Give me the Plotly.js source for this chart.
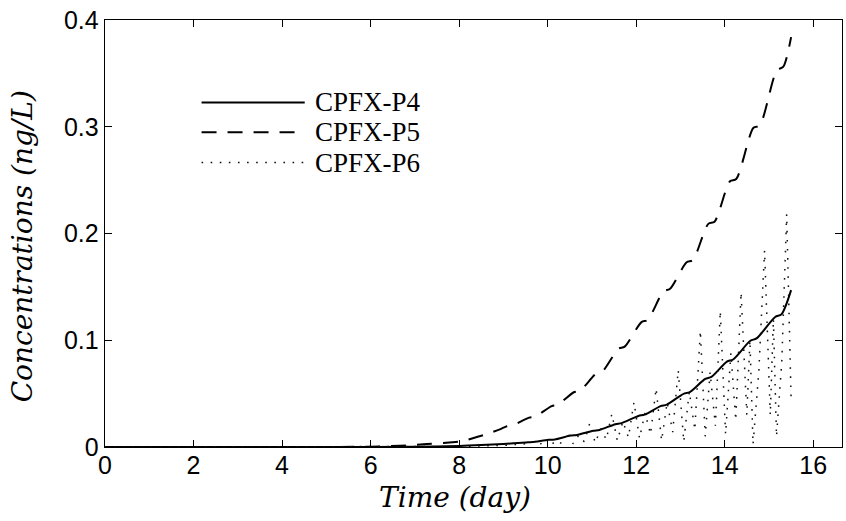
<!DOCTYPE html>
<html>
<head>
<meta charset="utf-8">
<script src="https://cdn.plot.ly/plotly-3.0.1.min.js"></script>
<style>
  html, body { margin: 0; padding: 0; background: #fff; }
  #chart { width: 846px; height: 521px; }
</style>
</head>
<body>
<div id="chart"></div>
<script>
// CPFX-P4 concentration (ng/L) against time (day)
const timeP4 = [0, 6, 7, 8, 8.5, 9, 9.51, 9.65, 10.02, 10.16, 10.52, 10.66, 11.03, 11.17,
  11.53, 11.67, 12.05, 12.19, 12.55, 12.69, 13.07, 13.21, 13.56, 13.70, 14.05, 14.19,
  14.58, 14.72, 15.14, 15.28, 15.5];
const concP4 = [0, 0, 0.0002, 0.001, 0.0018, 0.0028, 0.0043, 0.0047, 0.0067, 0.0071,
  0.0107, 0.0113, 0.0152, 0.016, 0.0214, 0.0224, 0.0291, 0.0303, 0.0383, 0.0397,
  0.0498, 0.0514, 0.0638, 0.0656, 0.080, 0.082, 0.0995, 0.1017, 0.1218, 0.1242, 0.147];

// CPFX-P5
const timeP5 = [0, 5, 6, 6.66, 7.27, 7.85, 8.05, 8.4, 8.65, 8.92, 9.08, 9.22, 9.58, 9.72,
  10.09, 10.23, 10.59, 10.73, 11.10, 11.24, 11.60, 11.74, 12.12, 12.26, 12.62, 12.76,
  13.14, 13.28, 13.63, 13.77, 14.12, 14.26, 14.65, 14.79, 15.18, 15.32, 15.5];
const concP5 = [0, 0, 0.0003, 0.0012, 0.0027, 0.0045, 0.0052, 0.0094, 0.0125, 0.0165,
  0.0195, 0.0205, 0.0275, 0.0285, 0.0383, 0.0397, 0.0513, 0.0527, 0.0690, 0.0710,
  0.0920, 0.0940, 0.1170, 0.1190, 0.1460, 0.1480, 0.1730, 0.1750, 0.2090, 0.2110,
  0.2490, 0.2510, 0.2990, 0.3010, 0.3530, 0.3560, 0.384];

// CPFX-P6 (strongly oscillating)
const timeP6 = [0, 6, 8, 9, 9.5, 9.7, 9.825, 9.95, 10.075, 10.2, 10.325, 10.45, 10.575,
  10.7, 10.825, 10.95, 11.075, 11.2, 11.325, 11.45, 11.575, 11.7, 11.825, 11.95, 12.075,
  12.2, 12.325, 12.45, 12.575, 12.7, 12.825, 12.95, 13.075, 13.2, 13.325, 13.45, 13.56,
  13.67, 13.79, 13.9, 14.02, 14.14, 14.25, 14.37, 14.5, 14.57, 14.64, 14.77, 14.9, 15.03,
  15.1, 15.17, 15.29, 15.4, 15.5];
const concP6 = [0, 0, 0.0005, 0.0015, 0.003, 0.005, 0.002, 0.008, 0.002, 0.006, 0.003,
  0.014, 0.003, 0.011, 0.005, 0.022, 0.004, 0.017, 0.007, 0.031, 0.006, 0.024, 0.009,
  0.042, 0.008, 0.032, 0.012, 0.055, 0.006, 0.042, 0.014, 0.072, 0.005, 0.052, 0.016,
  0.109, 0.01, 0.07, 0.02, 0.1275, 0.012, 0.088, 0.025, 0.145, 0.03, 0.1, 0.0025, 0.07,
  0.184, 0.03, 0.12, 0.01, 0.08, 0.218, 0.045];

const seriesNames = ['CPFX-P4', 'CPFX-P5', 'CPFX-P6'];
const xTicks = [0, 2, 4, 6, 8, 10, 12, 14, 16];
const yTicks = [0, 0.1, 0.2, 0.3, 0.4];
const yTickText = ['0', '0.1', '0.2', '0.3', '0.4'];

const styles = [
  { color: '#000', width: 2, dash: 'solid' },
  { color: '#000', width: 2, dash: '15px,11px' },
  { color: '#111', width: 1.5, dash: '1.6px,7.5px' }
];

const traces = [
  { x: timeP4, y: concP4 },
  { x: timeP5, y: concP5 },
  { x: timeP6, y: concP6 }
].map((d, i) => ({
  type: 'scatter', mode: 'lines', name: seriesNames[i],
  x: d.x, y: d.y,
  line: Object.assign({ shape: i === 2 ? 'linear' : 'spline', smoothing: 0.8 }, styles[i]),
  showlegend: false, hoverinfo: 'skip'
}));

// Hand-built legend: long line samples with labels to their right
const legendX0 = 0.131, legendX1 = 0.271, legendTextX = 0.284;
const legendY = [0.807, 0.737, 0.666];
const shapes = legendY.map((y, i) => ({
  type: 'line', xref: 'paper', yref: 'paper',
  x0: legendX0, x1: legendX1, y0: y, y1: y,
  line: styles[i]
}));
const serif = 'Liberation Serif, serif';
const mathFont = { family: 'DejaVu Serif, serif', size: 28, color: '#000', style: 'italic' };
const annotations = legendY.map((y, i) => ({
  xref: 'paper', yref: 'paper', x: legendTextX, y: y,
  xanchor: 'left', yanchor: 'middle', showarrow: false, borderpad: 0,
  text: seriesNames[i],
  font: { family: serif, size: 27, color: '#000' }
}));

// Axis titles
annotations.push({
  xref: 'paper', yref: 'paper', x: 0.475, y: 0, yshift: -50,
  xanchor: 'center', yanchor: 'middle', showarrow: false,
  text: 'Time (day)', font: mathFont
});
annotations.push({
  xref: 'paper', yref: 'paper', x: 0, xshift: -83, y: 0.47,
  xanchor: 'center', yanchor: 'middle', showarrow: false, textangle: -90,
  text: 'Concentrations (ng/L)', font: mathFont
});

const tickFont = { family: 'Liberation Sans, Arial, sans-serif', size: 25, color: '#000' };

const layout = {
  width: 846, height: 521,
  margin: { l: 105, r: 4, t: 20, b: 74, pad: 0 },
  paper_bgcolor: '#fff', plot_bgcolor: '#fff',
  showlegend: false,
  xaxis: {
    range: [0, 16.65], tickvals: xTicks, ticktext: xTicks.map(String),
    ticks: 'inside', ticklen: 7, tickcolor: '#000', tickwidth: 1,
    showline: true, linecolor: '#000', linewidth: 1.3, mirror: 'ticks',
    showgrid: false, zeroline: false, tickfont: tickFont, ticklabelstandoff: -4
  },
  yaxis: {
    range: [0, 0.4], tickvals: yTicks, ticktext: yTickText,
    ticks: 'inside', ticklen: 7, tickcolor: '#000', tickwidth: 1,
    showline: true, linecolor: '#000', linewidth: 1.3, mirror: 'ticks',
    showgrid: false, zeroline: false, tickfont: tickFont
  },
  shapes: shapes,
  annotations: annotations
};

Plotly.newPlot('chart', traces, layout, { staticPlot: true, displayModeBar: false });
</script>
</body>
</html>
